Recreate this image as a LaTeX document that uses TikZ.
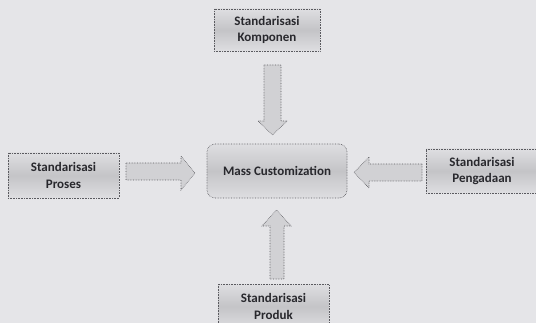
\documentclass[tikz,border=0pt]{standalone}
\usepackage{fontspec}
\setmainfont{Carlito}
\usetikzlibrary{calc}
\definecolor{bg}{RGB}{229,229,232}
\definecolor{boxmid}{RGB}{196,196,199}
\definecolor{boxedge}{RGB}{222,222,225}
\definecolor{txt}{RGB}{40,40,45}
\definecolor{line}{RGB}{90,90,95}
\tikzset{
  sbox/.style={draw=line, densely dotted, line width=0.6pt, top color=boxedge, bottom color=boxedge, middle color=boxmid,
    minimum width=#1, inner sep=0pt, align=center, text=txt, font=\bfseries\fontsize{13}{16.5}\selectfont},
  barrow/.style={draw=line, densely dotted, line width=0.6pt, fill=boxmid!60!bg},
}
\begin{document}
\begin{tikzpicture}[x=1pt,y=-1pt]
\fill[bg] (0,0) rectangle (536,323);
\useasboundingbox (0,0) rectangle (536,323);
\clip (0,0) rectangle (536,323);
\node[sbox=106, minimum height=42] (komp) at (267,30) {Standarisasi\\Komponen};
\node[sbox=140, minimum height=54, rounded corners=8pt] (mc) at (277,171) {Mass Customization};
\node[sbox=111, minimum height=45] (proses) at (63.5,175.5) {Standarisasi\\Proses};
\node[sbox=112, minimum height=44] (peng) at (482,171) {Standarisasi\\Pengadaan};
\node[sbox=111, minimum height=44] (produk) at (273.5,306.5) {Standarisasi\\Produk};
% down arrow from komp to mc
\draw[barrow] (264,65) -- (281,65) -- (281,121) -- (287,121) -- (272.5,135) -- (258,121) -- (264,121) -- cycle;
% right arrow from proses to mc
\draw[barrow] (126,163) -- (181,163) -- (181,156) -- (195,173) -- (181,190) -- (181,180) -- (126,180) -- cycle;
% left arrow from peng to mc
\draw[barrow] (422,164) -- (369,164) -- (369,157) -- (354,172.5) -- (369,188) -- (369,181) -- (422,181) -- cycle;
% up arrow from produk to mc
\draw[barrow] (270,279) -- (284,279) -- (284,226) -- (291,226) -- (276.5,210) -- (262,226) -- (270,226) -- cycle;
\end{tikzpicture}
\end{document}
